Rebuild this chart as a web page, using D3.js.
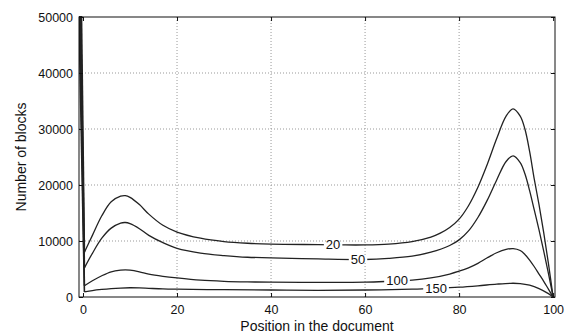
<!DOCTYPE html>
<html><head><meta charset="utf-8">
<script src="https://cdn.jsdelivr.net/npm/d3@7"></script>
<style>body{margin:0;background:#fff}svg{display:block}text{font-family:"Liberation Sans",Arial,sans-serif;fill:#111}</style>
</head><body><svg id="c" width="567" height="335"></svg>
<script>
const xTicks = [0, 20, 40, 60, 80, 100];
const yTicks = [0, 10000, 20000, 30000, 40000, 50000];
const seriesNames = ["20", "50", "100", "150"];
const xs20 = [-0.4, 0.3, 2, 4, 6, 8, 9, 10, 12, 14, 17, 20, 25, 30, 35, 40, 50, 55, 60, 65, 70, 74, 76, 78, 80, 82, 84, 86, 88, 90, 91.5, 93, 94, 95, 96, 97, 98, 99, 100];
const ys20 = [56000, 8000, 11000, 14500, 17000, 18000, 18100, 17800, 16500, 14800, 12800, 11600, 10500, 9900, 9600, 9450, 9350, 9300, 9300, 9450, 9900, 10700, 11400, 12400, 13900, 16300, 19600, 23700, 28300, 32300, 33600, 32300, 30000, 26000, 21000, 16500, 11500, 6000, 0];
const xs50 = [-0.6, 0.3, 2, 4, 6, 8, 9, 10, 12, 14, 17, 20, 25, 30, 35, 40, 50, 60, 65, 70, 74, 78, 80, 82, 84, 86, 88, 90, 91.5, 93, 94, 95, 96, 97, 98, 99, 100];
const ys50 = [56000, 5200, 7800, 10500, 12300, 13200, 13300, 13100, 12200, 11000, 9700, 8700, 7850, 7400, 7100, 7000, 6800, 6700, 6900, 7300, 8000, 9200, 10200, 11800, 14200, 17300, 20900, 24200, 25200, 24000, 22000, 19000, 15500, 12000, 8200, 4200, 0];
const xs100 = [-0.8, 0.3, 2, 4, 6, 8, 9, 10, 12, 14, 17, 20, 25, 30, 35, 40, 50, 60, 65, 70, 74, 78, 80, 82, 84, 86, 88, 90, 91.5, 93, 94, 95, 96, 97, 98, 99, 100];
const ys100 = [56000, 2000, 2900, 3800, 4500, 4800, 4850, 4800, 4500, 4100, 3700, 3400, 3000, 2800, 2700, 2650, 2600, 2650, 2800, 3000, 3400, 4100, 4600, 5200, 6000, 7000, 7900, 8500, 8650, 8300, 7600, 6600, 5400, 4100, 2800, 1400, 0];
const xs150 = [-1.0, 0.3, 2, 4, 6, 8, 10, 12, 14, 17, 20, 30, 40, 50, 60, 70, 75, 80, 84, 88, 91, 93, 95, 97, 99, 100];
const ys150 = [56000, 900, 1150, 1350, 1500, 1600, 1650, 1620, 1550, 1450, 1400, 1300, 1250, 1200, 1250, 1400, 1550, 1750, 2000, 2300, 2450, 2400, 2100, 1500, 600, 0];
const labelX = [53.2, 58.5, 66.8, 75.1];

const allX = [xs20, xs50, xs100, xs150];
const allY = [ys20, ys50, ys100, ys150];

const svg = d3.select("#c");
const L = 79, R = 555, T = 17, B = 297;
const x = d3.scaleLinear().domain([-0.85, 100.4]).range([L, R]);
const y = d3.scaleLinear().domain([0, 50000]).range([B, T]);

svg.append("defs").append("clipPath").attr("id", "clip")
  .append("rect").attr("x", L).attr("y", T - 1).attr("width", R - L).attr("height", B - T + 1);

// grid
const g = svg.append("g");
g.selectAll("line.gx").data(xTicks.filter(d => d > 0 && d < 100)).join("line")
  .attr("x1", d => x(d)).attr("x2", d => x(d)).attr("y1", T).attr("y2", B)
  .attr("stroke", "#999").attr("stroke-width", 1).attr("stroke-dasharray", "1,2");
g.selectAll("line.gy").data(yTicks.filter(d => d > 0 && d < 50000)).join("line")
  .attr("x1", L).attr("x2", R).attr("y1", d => y(d)).attr("y2", d => y(d))
  .attr("stroke", "#999").attr("stroke-width", 1).attr("stroke-dasharray", "1,2");

// curves
const smooth = d3.line().x(d => x(d[0])).y(d => y(d[1])).curve(d3.curveCatmullRom.alpha(0.5));
const straight = d3.line().x(d => x(d[0])).y(d => y(d[1]));
const cg = svg.append("g").attr("clip-path", "url(#clip)");
seriesNames.forEach((n, i) => {
  const pts = allX[i].map((v, k) => [v, allY[i][k]]);
  cg.append("path").attr("d", straight(pts.slice(0, 2))).attr("fill", "none")
    .attr("stroke", "#222").attr("stroke-width", 1.6);
  cg.append("path").attr("d", smooth(pts.slice(1))).attr("fill", "none")
    .attr("stroke", "#222").attr("stroke-width", 1.3);
});

// inline labels
seriesNames.forEach((n, i) => {
  const xv = labelX[i];
  const yv = d3.scaleLinear().domain(allX[i]).range(allY[i])(xv);
  const t = svg.append("text").attr("x", x(xv)).attr("y", y(yv)).attr("dy", "0.35em")
    .attr("text-anchor", "middle").attr("font-size", 13).text(n);
  const bb = t.node().getBBox();
  svg.insert("rect", "text").attr("x", bb.x - 2).attr("y", y(yv) - 2.5).attr("width", bb.width + 4).attr("height", 5).attr("fill", "#fff");
});

// axes box
svg.append("rect").attr("x", L).attr("y", T).attr("width", R - L).attr("height", B - T)
  .attr("fill", "none").attr("stroke", "#111").attr("stroke-width", 1);

const ax = svg.append("g").attr("transform", `translate(0,${B})`)
  .call(d3.axisBottom(x).tickValues(xTicks).tickSize(-4).tickPadding(8));
const axT = svg.append("g").attr("transform", `translate(0,${T})`)
  .call(d3.axisTop(x).tickValues(xTicks).tickSize(-4).tickFormat(""));
const ay = svg.append("g").attr("transform", `translate(${L},0)`)
  .call(d3.axisLeft(y).tickValues(yTicks).tickSize(-4).tickPadding(6).tickFormat(d3.format("d")));
const ayR = svg.append("g").attr("transform", `translate(${R},0)`)
  .call(d3.axisRight(y).tickValues(yTicks).tickSize(-4).tickFormat(""));
[ax, axT, ay, ayR].forEach(a => {
  a.select(".domain").remove();
  a.selectAll("line").attr("stroke", "#111");
  a.selectAll("text").attr("font-size", 12.5).attr("font-family", "Liberation Sans, Arial, sans-serif").attr("fill", "#111");
});

svg.append("text").attr("x", (L + R) / 2).attr("y", 331).attr("text-anchor", "middle")
  .attr("font-size", 14).text("Position in the document");
svg.append("text").attr("transform", `translate(26,${(T + B) / 2}) rotate(-90)`)
  .attr("text-anchor", "middle").attr("font-size", 14).text("Number of blocks");
</script></body></html>
